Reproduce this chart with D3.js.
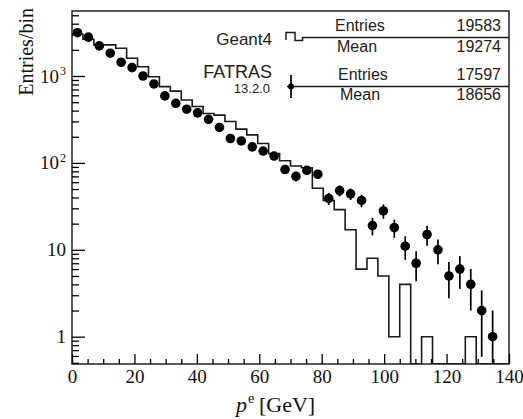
<!DOCTYPE html>
<html>
<head>
<meta charset="utf-8">
<script src="https://cdn.jsdelivr.net/npm/d3@7"></script>
<style>
  html, body { margin: 0; padding: 0; background: #fff; }
  svg { display: block; }
</style>
</head>
<body>
<div id="chart"></div>
<script>
(function () {
  'use strict';

  // p^e binning: 40 bins of 3.5 GeV from 0 to 140
  const BIN_LOW = d3.range(0, 140, 3.5);
  const BIN_WIDTH = 3.5;

  // Geant4 (histogram line)
  const GEANT4 = [3050, 2650, 2280, 2280, 2085, 1600, 1280, 980, 755, 670,
                  530, 445, 370, 355, 300, 245, 210, 167, 128, 106,
                  92, 88, 51, 37, 29, 17, 6, 8, 5, 1,
                  4, 0, 1, 0, 0, 0, 1, 0, 0, 0];

  // FATRAS 13.2.0 (points with sqrt(N) errors)
  const FATRAS = [3150, 2800, 2220, 1830, 1440, 1250, 1000, 810, 590, 485,
                  415, 377, 317, 256, 191, 179, 153, 137, 120, 84,
                  70, 82, 74, 39, 48, 44, 37, 19, 28, 18,
                  11, 7, 15, 10, 5, 6, 4, 2, 1, 0];

  const X_TICKS = [0, 20, 40, 60, 80, 100, 120, 140];
  const Y_TICKS = [1, 10, 100, 1000];
  const Y_TICK_LABELS = [['1', ''], ['10', ''], ['10', '2'], ['10', '3']];

  const SERIES_NAMES = ['Geant4', 'FATRAS'];
  const ENTRIES = [19583, 17597];
  const MEANS = [19274, 18656];

  const W = 523, H = 419;
  const m = { top: 11, right: 14, bottom: 55, left: 72 };
  const iw = W - m.left - m.right;
  const ih = H - m.top - m.bottom;

  const serif = '"Liberation Serif", "Times New Roman", serif';
  const sans = '"Liberation Sans", Arial, sans-serif';

  const svg = d3.select('#chart').append('svg')
    .attr('width', W).attr('height', H);

  const x = d3.scaleLinear().domain([0, 140]).range([m.left, m.left + iw]);
  const y = d3.scaleLog().domain([0.485, 5600]).range([m.top + ih, m.top]).clamp(true);
  const yv = v => v > 0 ? y(v) : m.top + ih;

  svg.append('clipPath').attr('id', 'frame-clip')
    .append('rect')
    .attr('x', m.left).attr('y', m.top).attr('width', iw).attr('height', ih);

  const plot = svg.append('g').attr('clip-path', 'url(#frame-clip)');

  // Geant4 step histogram
  let d = `M${x(0)},${yv(GEANT4[0])}`;
  GEANT4.forEach((v, i) => {
    d += `H${x(BIN_LOW[i] + BIN_WIDTH)}`;
    if (i < GEANT4.length - 1) d += `V${yv(GEANT4[i + 1])}`;
  });
  d += `V${m.top + ih}`;
  plot.append('path')
    .attr('d', d)
    .attr('fill', 'none')
    .attr('stroke', '#1a1a1a')
    .attr('stroke-width', 1.6);

  // FATRAS points
  const pts = BIN_LOW.map((lo, i) => ({ xc: lo + BIN_WIDTH / 2, v: FATRAS[i] }))
    .filter(p => p.v > 0);

  plot.selectAll('.err')
    .data(pts)
    .enter().append('line')
    .attr('class', 'err')
    .attr('x1', p => x(p.xc)).attr('x2', p => x(p.xc))
    .attr('y1', p => yv(p.v + Math.sqrt(p.v)))
    .attr('y2', p => yv(p.v - Math.sqrt(p.v)))
    .attr('stroke', '#000')
    .attr('stroke-width', 1.7);

  plot.selectAll('.pt')
    .data(pts)
    .enter().append('circle')
    .attr('class', 'pt')
    .attr('cx', p => x(p.xc))
    .attr('cy', p => yv(p.v))
    .attr('r', 4.8)
    .attr('fill', '#000');

  // Frame
  svg.append('rect')
    .attr('x', m.left).attr('y', m.top).attr('width', iw).attr('height', ih)
    .attr('fill', 'none')
    .attr('stroke', '#000')
    .attr('stroke-width', 1.3);

  // X axis ticks
  const minorX = d3.range(0, 141, 5).filter(v => v % 20 !== 0);
  svg.append('g')
    .attr('transform', `translate(0,${m.top + ih})`)
    .call(d3.axisBottom(x).tickValues(minorX).tickSize(-5).tickFormat(''))
    .call(g => g.select('.domain').remove());
  svg.append('g')
    .attr('transform', `translate(0,${m.top + ih})`)
    .call(d3.axisBottom(x).tickValues(X_TICKS).tickSize(-10).tickPadding(6).tickFormat(d3.format('d')))
    .call(g => g.select('.domain').remove())
    .call(g => g.selectAll('text')
      .attr('font-family', serif).attr('font-size', 19).attr('fill', '#111'));
  svg.selectAll('.tick line').attr('stroke', '#000').attr('stroke-width', 1.3);

  // Y axis ticks
  const minorY = [];
  [0.1, 1, 10, 100, 1000].forEach(dec => {
    for (let k = 2; k <= 9; k++) {
      const v = dec * k;
      if (v > 0.485 && v < 5600) minorY.push(v);
    }
  });
  svg.append('g')
    .attr('transform', `translate(${m.left},0)`)
    .call(d3.axisLeft(y).tickValues(minorY).tickSize(-7).tickFormat(''))
    .call(g => g.select('.domain').remove())
    .call(g => g.selectAll('line').attr('stroke', '#000').attr('stroke-width', 1.3));
  svg.append('g')
    .attr('transform', `translate(${m.left},0)`)
    .call(d3.axisLeft(y).tickValues(Y_TICKS).tickSize(-13).tickFormat(''))
    .call(g => g.select('.domain').remove())
    .call(g => g.selectAll('line').attr('stroke', '#000').attr('stroke-width', 1.3));

  const yLab = svg.append('g')
    .attr('font-family', serif).attr('font-size', 19).attr('fill', '#111')
    .attr('text-anchor', 'end');
  Y_TICKS.forEach((v, i) => {
    const [base, sup] = Y_TICK_LABELS[i];
    yLab.append('text')
      .attr('x', m.left - 6 - (sup ? 7 : 0))
      .attr('y', y(v) + 6.5)
      .text(base);
    if (sup) {
      yLab.append('text')
        .attr('x', m.left - 6).attr('y', y(v) - 1)
        .attr('font-size', 12)
        .text(sup);
    }
  });

  // Axis titles
  const xt = svg.append('g')
    .attr('font-family', serif).attr('fill', '#111');
  xt.append('text').attr('x', 236).attr('y', 412)
    .attr('font-size', 22).attr('font-style', 'italic').text('p');
  xt.append('text').attr('x', 248).attr('y', 403)
    .attr('font-size', 14).text('e');
  xt.append('text').attr('x', 259).attr('y', 412)
    .attr('font-size', 22).text('[GeV]');

  svg.append('text')
    .attr('transform', 'translate(33,8) rotate(-90)')
    .attr('text-anchor', 'end')
    .attr('font-family', serif).attr('font-size', 20).attr('fill', '#111')
    .text('Entries/bin');

  // Legend with stats
  const leg = svg.append('g').attr('font-family', sans).attr('fill', '#222');
  const xEnd = m.left + iw;

  // Geant4 row
  leg.append('text').attr('x', 272).attr('y', 44.5)
    .attr('text-anchor', 'end').attr('font-size', 17).text(SERIES_NAMES[0]);
  leg.append('path')
    .attr('d', `M286,40 V32.5 H295 V40.5 H302.5 V37.5 H${xEnd}`)
    .attr('fill', 'none').attr('stroke', '#1a1a1a').attr('stroke-width', 1.5);

  // FATRAS row
  leg.append('text').attr('x', 272).attr('y', 78)
    .attr('text-anchor', 'end').attr('font-size', 18).text(SERIES_NAMES[1]);
  leg.append('text').attr('x', 270).attr('y', 93)
    .attr('text-anchor', 'end').attr('font-size', 13).text('13.2.0');
  leg.append('line')
    .attr('x1', 287).attr('x2', xEnd).attr('y1', 86.5).attr('y2', 86.5)
    .attr('stroke', '#1a1a1a').attr('stroke-width', 1.5);
  leg.append('line')
    .attr('x1', 291).attr('x2', 291).attr('y1', 75).attr('y2', 98)
    .attr('stroke', '#000').attr('stroke-width', 1.7);
  leg.append('circle').attr('cx', 291).attr('cy', 86.5).attr('r', 3).attr('fill', '#000');

  const statRows = [
    { label: 'Entries', value: ENTRIES[0], yb: 31, xl: 335 },
    { label: 'Mean', value: MEANS[0], yb: 52, xl: 337 },
    { label: 'Entries', value: ENTRIES[1], yb: 79.5, xl: 338 },
    { label: 'Mean', value: MEANS[1], yb: 100, xl: 340 }
  ];
  statRows.forEach(r => {
    leg.append('text').attr('x', r.xl).attr('y', r.yb)
      .attr('font-size', 16).text(r.label);
    leg.append('text').attr('x', 501).attr('y', r.yb)
      .attr('text-anchor', 'end').attr('font-size', 16).text(r.value);
  });
})();
</script>
</body>
</html>
